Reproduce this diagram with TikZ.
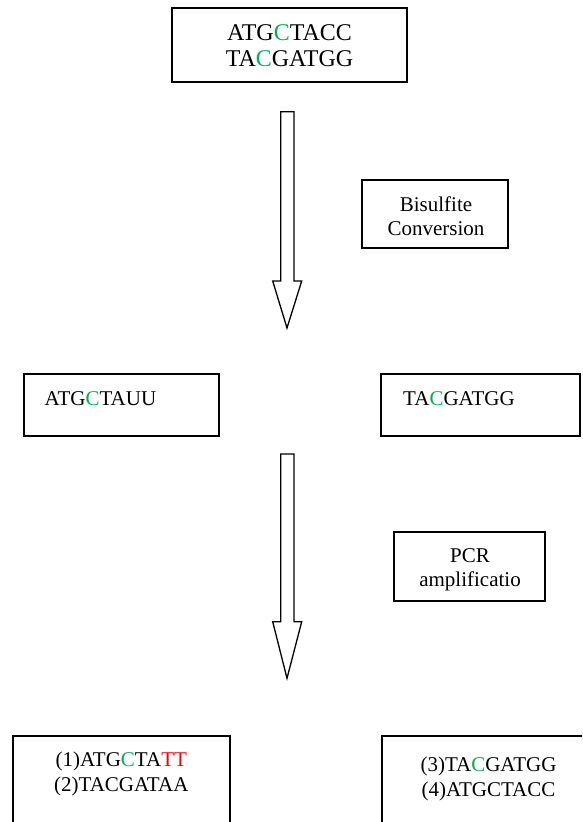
\documentclass[tikz,border=0pt]{standalone}
\usepackage{fontspec}
\setmainfont{Liberation Serif}
\usepackage{xcolor}
\definecolor{dnagreen}{RGB}{0,176,80}
\definecolor{dnared}{RGB}{255,0,0}
\begin{document}
\begin{tikzpicture}[x=1pt,y=-1pt,
  box/.style={draw=black,line width=2pt,inner sep=0pt,fill=none},
  blockarrow/.style={draw=black,line width=1.3pt,line join=miter,fill=white},
  seq/.style={anchor=base,inner sep=0pt,font=\fontsize{21}{24}\selectfont},
  bigseq/.style={anchor=base,inner sep=0pt,font=\fontsize{24}{27}\selectfont}]
\clip (0,0) rectangle (582,822);
\fill[white] (0,0) rectangle (582,822);
\newcommand{\gC}{\textcolor{dnagreen}{C}}
% boxes
\node[box,minimum width=235pt,minimum height=74pt] (top) at (289.5,45) {};
\node[box,minimum width=146pt,minimum height=68pt] (bis) at (435,214) {};
\node[box,minimum width=195pt,minimum height=62pt] (ml) at (121.5,405) {};
\node[box,minimum width=199pt,minimum height=62pt] (mr) at (480.5,405) {};
\node[box,minimum width=151pt,minimum height=69pt] (pcr) at (469.5,566.5) {};
\node[box,minimum width=217pt,minimum height=94pt] (bl) at (121.5,783) {};
\node[box,minimum width=208pt,minimum height=94pt] (br) at (486,783) {};
% texts
\node[bigseq] (t1) at (289.5,40) {ATG\gC TACC};
\node[bigseq] (t2) at (289.5,66.7) {TA\gC GATGG};
\node[seq] (b1) at (436,211.7) {Bisulfite};
\node[seq] (b2) at (436,235) {Conversion};
\node[seq,anchor=base west] (m1) at (44.5,405) {ATG\gC TAUU};
\node[seq,anchor=base west] (m2) at (403,405) {TA\gC GATGG};
\node[seq] (p1) at (470,562.7) {PCR};
\node[seq] (p2) at (470,586.7) {amplificatio};
\node[seq] (l1) at (121.3,766.7) {(1)ATG\gC TA\textcolor{dnared}{TT}};
\node[seq] (l2) at (121.3,791.7) {(2)TACGATAA};
\node[seq] (r1) at (488.5,771.7) {(3)TA\gC GATGG};
\node[seq] (r2) at (488.5,796) {(4)ATGCTACC};
% block arrows
\draw[blockarrow] (280.7,111.7) -- (294,111.7) -- (294,281) -- (301.7,281) -- (287,328)
  -- (272.7,281) -- (280.7,281) -- cycle;
\draw[blockarrow] (280.7,454) -- (294,454) -- (294,621.7) -- (301.7,621.7) -- (287,678.3)
  -- (272.7,621.7) -- (280.7,621.7) -- cycle;
\end{tikzpicture}
\end{document}
